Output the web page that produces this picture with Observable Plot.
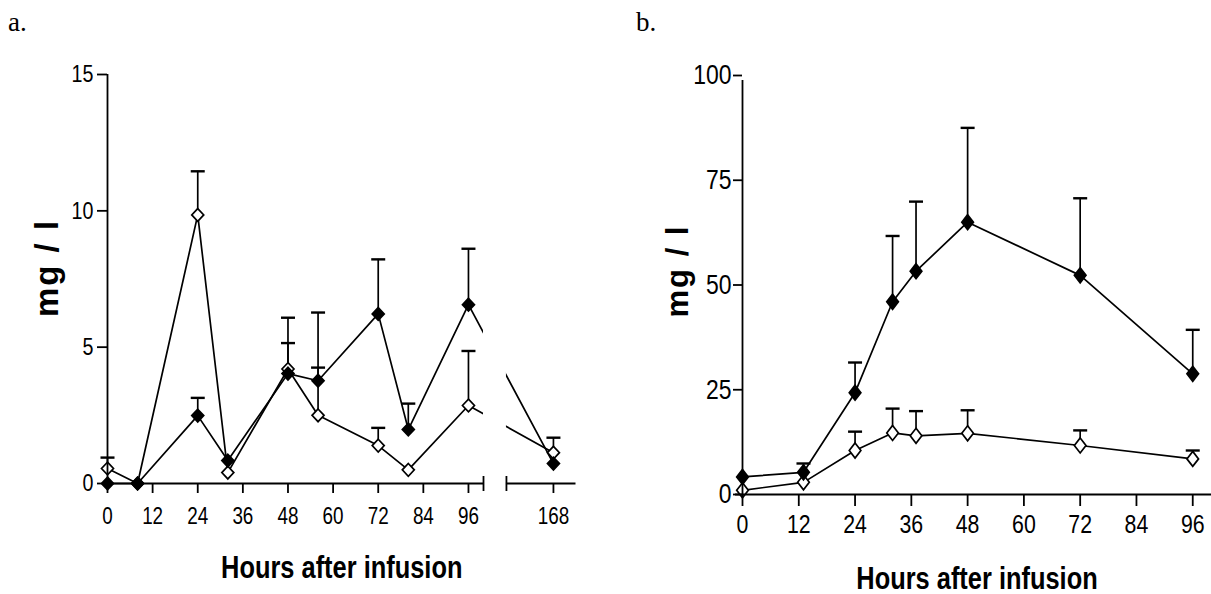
<!DOCTYPE html>
<html><head><meta charset="utf-8">
<script src="https://cdn.jsdelivr.net/npm/d3@7"></script>
<script src="https://cdn.jsdelivr.net/npm/@observablehq/plot@0.6"></script>
<style>
html,body{margin:0;padding:0;background:#fff;}
#root{position:relative;width:1211px;height:594px;overflow:hidden;background:#fff;}
#root svg{position:absolute;top:0;}
.plabel{position:absolute;font-family:"Liberation Serif","Times New Roman",serif;font-size:27px;color:#000;line-height:1;}
</style></head><body><div id="root"><div class="plabel" style="left:8px;top:9px">a.</div><div class="plabel" style="left:636px;top:9px">b.</div></div>
<script>
// ---------- Panel a data ----------
const hoursA = [0, 8, 24, 32, 48, 56, 72, 80, 96, 168];
const openA = [0.55, 0, 9.85, 0.4, 4.2, 2.5, 1.39, 0.5, 2.86, 1.13];
const sdOpenA = [0.4, null, 1.6, null, 0.95, 1.75, 0.65, null, 2.0, 0.55];
const filledA = [0, 0, 2.49, 0.84, 4.03, 3.77, 6.22, 1.98, 6.56, 0.73];
const sdFilledA = [null, null, 0.65, null, 2.05, 2.5, 2.0, 0.95, 2.05, null];
const xTicksA = [0, 12, 24, 36, 48, 60, 72, 84, 96, 168];
const yTicksA = [0, 5, 10, 15];
const breakA = [100, 155.5]; // axis break (hours)
const gapA = 6.1;            // width of the drawn gap, in hour units
const xEndA = 174;

// ---------- Panel b data ----------
const hoursB = [0, 13, 24, 32, 37, 48, 72, 96];
const openB = [1.0, 2.9, 10.5, 14.7, 14.0, 14.6, 11.7, 8.5];
const sdOpenB = [null, null, 4.5, 5.8, 5.9, 5.5, 3.6, 2.0];
const filledB = [4.2, 5.3, 24.3, 46.0, 53.3, 65.0, 52.3, 28.8];
const sdFilledB = [null, 2.1, 7.2, 15.7, 16.6, 22.5, 18.4, 10.5];
const xTicksB = [0, 12, 24, 36, 48, 60, 72, 84, 96];
const yTicksB = [0, 25, 50, 75, 100];
const xEndB = 100;

const xTitle = "Hours after infusion";
const yTitle = "mg / l";

const FONT = '"Liberation Sans",Arial,sans-serif';
const NARROW = 0.82;

// position along the broken axis of panel a
const xPosA = h => h <= breakA[0] ? h : h - (breakA[1] - breakA[0]) + gapA;

const hbar = {draw(ctx, size){const r = Math.sqrt(size/Math.PI); ctx.moveTo(-r,0); ctx.lineTo(r,0);}};
const vbar = {draw(ctx, size){const r = Math.sqrt(size/Math.PI); ctx.moveTo(0,-r); ctx.lineTo(0,r);}};
const diamond = (kx, ky) => ({draw(ctx, size){
  const r = Math.sqrt(size/Math.PI);
  ctx.moveTo(0,-r*ky); ctx.lineTo(r*kx,0); ctx.lineTo(0,r*ky); ctx.lineTo(-r*kx,0); ctx.closePath();
}});

function rows(h, o, so, f, sf, pos){
  return h.map((t,i)=>({hour:t, pos:pos(t), open:o[i], openSd:so[i], filled:f[i], filledSd:sf[i]}));
}

function seriesMarks(data, sym, r){
  const oe = data.filter(d=>d.openSd!=null), fe = data.filter(d=>d.filledSd!=null);
  return {
    lines: [
      Plot.line(data, {x:"pos", y:"open", stroke:"black", strokeWidth:1.7}),
      Plot.line(data, {x:"pos", y:"filled", stroke:"black", strokeWidth:1.7})
    ],
    rest: [
      Plot.ruleX(oe, {x:"pos", y1:"open", y2:d=>d.open+d.openSd, stroke:"black", strokeWidth:1.7}),
      Plot.ruleX(fe, {x:"pos", y1:"filled", y2:d=>d.filled+d.filledSd, stroke:"black", strokeWidth:1.7}),
      Plot.dot(oe, {x:"pos", y:d=>d.open+d.openSd, symbol:hbar, r:7, stroke:"black", strokeWidth:2.4, fill:"none"}),
      Plot.dot(fe, {x:"pos", y:d=>d.filled+d.filledSd, symbol:hbar, r:7, stroke:"black", strokeWidth:2.4, fill:"none"}),
      Plot.dot(data, {x:"pos", y:"open", symbol:sym, r:r, fill:"white", stroke:"black", strokeWidth:1.7}),
      Plot.dot(data, {x:"pos", y:"filled", symbol:sym, r:r, fill:"black", stroke:"black", strokeWidth:1.7})
    ]
  };
}

// horizontally condense text around its anchor (the original uses a narrow sans face); y title gets tracking instead
function condense(svg){
  svg.querySelectorAll("text").forEach(t=>{
    if (t.textContent === yTitle) { t.setAttribute("letter-spacing", "2"); return; }
    const anchor = getComputedStyle(t).textAnchor;
    const r = t.getBoundingClientRect();
    const ctm = t.parentNode.getScreenCTM();
    const sx = anchor === "end" ? r.right : anchor === "middle" ? (r.left + r.right) / 2 : r.left;
    const ax = sx - ctm.e;
    const g = document.createElementNS("http://www.w3.org/2000/svg", "g");
    g.setAttribute("transform", `translate(${ax},0) scale(${NARROW},1) translate(${-ax},0)`);
    t.parentNode.insertBefore(g, t);
    g.appendChild(t);
  });
}

const root = document.getElementById("root");

// ---------- Panel a ----------
{
  const data = rows(hoursA, openA, sdOpenA, filledA, sdFilledA, xPosA);
  const s = seriesMarks(data, diamond(1.0, 1.06), 6);
  const tickLabel = new Map(xTicksA.map(h => [xPosA(h), String(h)]));
  const chart = Plot.plot({
    width: 605, height: 594,
    marginLeft: 107, marginRight: 29.5, marginTop: 74, marginBottom: 111,
    style: {fontFamily: FONT, color: "black", background: "transparent", overflow: "visible"},
    x: {domain: [0, xPosA(xEndA)], range: [107, 575.5]},
    y: {domain: [0, 15], range: [483, 74]},
    marks: [
      ...s.lines,
      Plot.rect([breakA], {x1:d=>xPosA(d[0]), x2:d=>xPosA(d[1]), y1:0.2, y2:15, fill:"white"}),
      ...s.rest,
      Plot.ruleX([0], {y1:0, y2:15, stroke:"black", strokeWidth:1.8}),
      Plot.ruleY([0], {x1:0, x2:xPosA(breakA[0]), stroke:"black", strokeWidth:1.8}),
      Plot.ruleY([0], {x1:xPosA(breakA[1]), x2:xPosA(xEndA), stroke:"black", strokeWidth:1.8}),
      Plot.dot(breakA, {x:d=>xPosA(d), y:0, symbol:vbar, r:7.5, stroke:"black", strokeWidth:1.8, fill:"none"}),
      Plot.axisY({ticks:yTicksA, tickSize:10, tickPadding:4, fontSize:24, label:null, strokeWidth:1.8}),
      Plot.axisX({ticks:xTicksA.map(xPosA), tickFormat:p=>tickLabel.get(p), tickSize:10, tickPadding:14, fontSize:23, label:null, strokeWidth:1.8}),
      Plot.text([xTitle], {frameAnchor:"bottom", textAnchor:"middle", lineAnchor:"bottom", dy:94, fontSize:31, fontWeight:"bold"}),
      Plot.text([yTitle], {frameAnchor:"left", textAnchor:"middle", lineAnchor:"bottom", rotate:-90, dx:-50, dy:-11, fontSize:33, fontWeight:"bold"})
    ]
  });
  chart.style.left = "0px";
  root.appendChild(chart);
  condense(chart);
}

// ---------- Panel b ----------
{
  const data = rows(hoursB, openB, sdOpenB, filledB, sdFilledB, h => h);
  const s = seriesMarks(data, diamond(0.97, 1.25), 6);
  const chart = Plot.plot({
    width: 606, height: 594,
    marginLeft: 137, marginRight: 0, marginTop: 75, marginBottom: 100,
    style: {fontFamily: FONT, color: "black", background: "transparent", overflow: "visible"},
    x: {domain: [0, xEndB], range: [137, 606]},
    y: {domain: [0, 100], range: [494, 75]},
    marks: [
      ...s.lines,
      ...s.rest,
      Plot.ruleX([0], {y1:0, y2:100, insetBottom:-5, stroke:"black", strokeWidth:1.8}),
      Plot.ruleY([0], {x1:0, x2:xEndB, insetLeft:-7, stroke:"black", strokeWidth:1.8}),
      Plot.axisY({ticks:yTicksB, tickSize:9, tickPadding:2, fontSize:28, label:null, strokeWidth:1.8}),
      Plot.axisX({ticks:xTicksB, tickSize:12, tickPadding:8, fontSize:26, label:null, strokeWidth:1.8}),
      Plot.text([xTitle], {frameAnchor:"bottom", textAnchor:"middle", lineAnchor:"bottom", dy:94, fontSize:31, fontWeight:"bold"}),
      Plot.text([yTitle], {frameAnchor:"left", textAnchor:"middle", lineAnchor:"bottom", rotate:-90, dx:-55, dy:-14, fontSize:31, fontWeight:"bold"})
    ]
  });
  chart.style.left = "605px";
  root.appendChild(chart);
  condense(chart);
}
</script></body></html>
